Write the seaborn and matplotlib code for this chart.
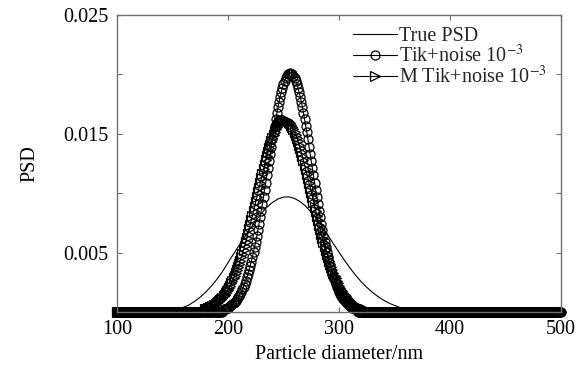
import numpy as np
import pandas as pd
import matplotlib
matplotlib.use("Agg")
import matplotlib.pyplot as plt
import seaborn as sns

# ---- data -------------------------------------------------------------
# diameter grid (nm) for the two inversion results
diameter = np.arange(100, 501)

# Tikhonov inversion with 1e-3 noise: non-zero part from 196 nm to 316 nm
tik_start = 196
tik_core = [
    0.00021, 0.00024, 0.00028, 0.00033, 0.00037, 0.00043, 0.00049, 0.00057,
    0.00065, 0.00074, 0.00084, 0.00095, 0.00108, 0.00122, 0.00137, 0.00154,
    0.00172, 0.00192, 0.00214, 0.00238, 0.00264, 0.00292, 0.00322, 0.00354,
    0.00388, 0.00424, 0.00463, 0.00504, 0.00548, 0.00593, 0.00641, 0.00691,
    0.00743, 0.00798, 0.00853, 0.00911, 0.00969, 0.01029, 0.01089, 0.01150,
    0.01211, 0.01272, 0.01333, 0.01393, 0.01453, 0.01512, 0.01568, 0.01622,
    0.01674, 0.01724, 0.01770, 0.01814, 0.01853, 0.01889, 0.01920, 0.01947,
    0.01970, 0.01987, 0.02000, 0.02007, 0.02010,
    0.02007, 0.02000, 0.01987, 0.01970, 0.01947, 0.01920, 0.01889, 0.01853,
    0.01814, 0.01770, 0.01724, 0.01674, 0.01622, 0.01568, 0.01512, 0.01453,
    0.01393, 0.01333, 0.01272, 0.01211, 0.01150, 0.01089, 0.01029, 0.00969,
    0.00911, 0.00853, 0.00798, 0.00743, 0.00691, 0.00641, 0.00593, 0.00548,
    0.00504, 0.00463, 0.00424, 0.00388, 0.00354, 0.00322, 0.00292, 0.00264,
    0.00238, 0.00214, 0.00192, 0.00172, 0.00154, 0.00137, 0.00122, 0.00108,
    0.00095, 0.00084, 0.00074, 0.00065, 0.00057, 0.00049, 0.00043, 0.00037,
    0.00033, 0.00028, 0.00024, 0.00021,
]

# modified Tikhonov inversion with 1e-3 noise: non-zero part from 179 nm to 323 nm
mtik_start = 179
mtik_core = [
    0.00022, 0.00025, 0.00028, 0.00032, 0.00036, 0.00040, 0.00044, 0.00049,
    0.00055, 0.00061, 0.00068, 0.00075, 0.00083, 0.00091, 0.00100, 0.00110,
    0.00121, 0.00133, 0.00146, 0.00159, 0.00174, 0.00189, 0.00206, 0.00223,
    0.00241, 0.00261, 0.00282, 0.00304, 0.00327, 0.00351, 0.00377, 0.00403,
    0.00432, 0.00461, 0.00491, 0.00522, 0.00555, 0.00589, 0.00623, 0.00659,
    0.00696, 0.00733, 0.00771, 0.00809, 0.00848, 0.00887, 0.00927, 0.00967,
    0.01006, 0.01046, 0.01086, 0.01125, 0.01164, 0.01202, 0.01239, 0.01276,
    0.01311, 0.01345, 0.01378, 0.01409, 0.01438, 0.01466, 0.01492, 0.01515,
    0.01537, 0.01556, 0.01573, 0.01587, 0.01599, 0.01608, 0.01615, 0.01619,
    0.01620,
    0.01619, 0.01615, 0.01608, 0.01599, 0.01587, 0.01573, 0.01556, 0.01537,
    0.01515, 0.01492, 0.01466, 0.01438, 0.01409, 0.01378, 0.01345, 0.01311,
    0.01276, 0.01239, 0.01202, 0.01164, 0.01125, 0.01086, 0.01046, 0.01006,
    0.00967, 0.00927, 0.00887, 0.00848, 0.00809, 0.00771, 0.00733, 0.00696,
    0.00659, 0.00623, 0.00589, 0.00555, 0.00522, 0.00491, 0.00461, 0.00432,
    0.00403, 0.00377, 0.00351, 0.00327, 0.00304, 0.00282, 0.00261, 0.00241,
    0.00223, 0.00206, 0.00189, 0.00174, 0.00159, 0.00146, 0.00133, 0.00121,
    0.00110, 0.00100, 0.00091, 0.00083, 0.00075, 0.00068, 0.00061, 0.00055,
    0.00049, 0.00044, 0.00040, 0.00036, 0.00032, 0.00028, 0.00025, 0.00022,
]

# true particle size distribution on a 5 nm grid
true_diameter = np.arange(100, 501, 5)
true_psd = [
    0, 0, 0, 0, 0, 0, 0, 0,
    0.00005, 0.00010, 0.00015, 0.00025, 0.00040, 0.00060, 0.00090,
    0.00125, 0.00168, 0.00218, 0.00275, 0.00340, 0.00415, 0.00489, 0.00560,
    0.00631, 0.00702, 0.00768, 0.00829, 0.00881, 0.00922, 0.00952, 0.00967,
    0.00969, 0.00956, 0.00929, 0.00890, 0.00840, 0.00781, 0.00715, 0.00646,
    0.00574, 0.00503, 0.00434, 0.00369, 0.00309, 0.00255, 0.00208, 0.00166,
    0.00131, 0.00100, 0.00075, 0.00055, 0.00038, 0.00025, 0.00015, 0.00008,
    0, 0, 0, 0, 0, 0, 0, 0, 0, 0, 0, 0, 0,
    0, 0, 0, 0, 0, 0, 0, 0, 0, 0, 0, 0, 0,
]

x_ticks = [100, 200, 300, 400, 500]
y_ticks = [0, 0.005, 0.01, 0.015, 0.02, 0.025]
y_ticklabels = ["", "0.005", "", "0.015", "", "0.025"]

labels = ["True PSD", r"Tik+noise 10$^{-3}$", r"M Tik+noise 10$^{-3}$"]


def full_series(start, core):
    vals = np.zeros(len(diameter))
    i0 = start - diameter[0]
    vals[i0:i0 + len(core)] = core
    return vals


tik_psd = full_series(tik_start, tik_core)
mtik_psd = full_series(mtik_start, mtik_core)

df_true = pd.DataFrame({"d": true_diameter, "psd": true_psd})
df_tik = pd.DataFrame({"d": diameter, "psd": tik_psd})
df_mtik = pd.DataFrame({"d": diameter, "psd": mtik_psd})

# ---- style ------------------------------------------------------------
sns.set_theme(style="white")
plt.rcParams["font.family"] = ["Liberation Serif", "DejaVu Serif"]
plt.rcParams["mathtext.fontset"] = "stix"
FS = 14.5

fig = plt.figure(figsize=(5.78, 3.68), dpi=100)
ax = fig.add_axes([0.2024, 0.1522, 0.7682, 0.8070])

sns.lineplot(data=df_true, x="d", y="psd", ax=ax, color="black",
             linewidth=0.8, label=labels[0], clip_on=False)
sns.lineplot(data=df_tik, x="d", y="psd", ax=ax, color="black",
             linewidth=0.8, marker="o", markersize=6.5,
             markerfacecolor="none", markeredgecolor="black",
             markeredgewidth=0.9, label=labels[1], clip_on=False)
sns.lineplot(data=df_mtik, x="d", y="psd", ax=ax, color="black",
             linewidth=0.8, marker=">", markersize=6.5,
             markerfacecolor="none", markeredgecolor="black",
             markeredgewidth=0.9, label=labels[2], clip_on=False)

ax.set_xlim(100, 500)
ax.set_ylim(0, 0.025)
ax.set_xticks(x_ticks)
ax.set_xticklabels([str(v) for v in x_ticks])
ax.set_yticks(y_ticks)
ax.set_yticklabels(y_ticklabels)

for s in ax.spines.values():
    s.set_visible(True)
    s.set_color("#707070")
    s.set_linewidth(1.0)

ax.tick_params(axis="both", which="both", direction="in", length=3.5,
               width=0.8, color="#707070", top=True, right=True,
               bottom=True, left=True, labelsize=FS, labelcolor="black",
               pad=6)

ax.set_xlabel("Particle diameter/nm", fontsize=FS, color="black", labelpad=4)
ax.set_ylabel("PSD", fontsize=FS, color="black", labelpad=17)

leg = ax.legend(loc="upper left", bbox_to_anchor=(353 / 578, 1 - 27 / 368),
                bbox_transform=fig.transFigure, frameon=False, fontsize=FS,
                handlelength=2.2, handletextpad=0.1, labelspacing=-0.05,
                borderpad=0, borderaxespad=0, numpoints=1)

fig.savefig("out.png", dpi=100)
